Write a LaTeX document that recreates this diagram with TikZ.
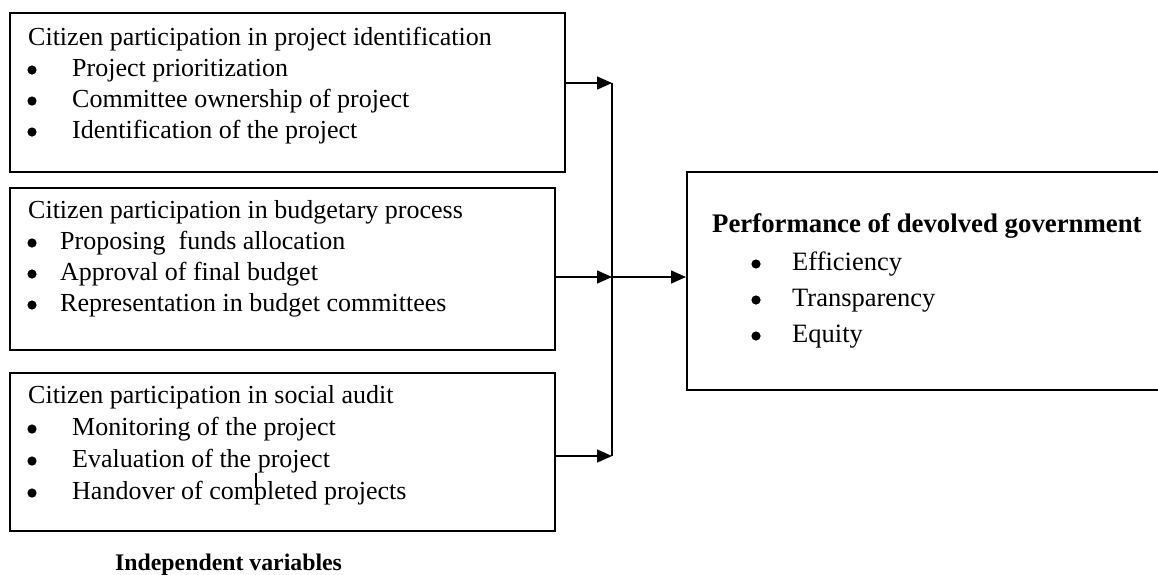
\documentclass[tikz,border=0pt]{standalone}
\usepackage{fontspec}
\setmainfont{Liberation Serif}
\usetikzlibrary{arrows.meta}

\begin{document}
\begin{tikzpicture}[x=1pt,y=-1pt,
		varbox/.style={draw, line width=1.6pt, inner sep=0pt, anchor=north west},
		line/.style={anchor=base west, inner sep=0pt, font=\fontsize{26}{31}\selectfont},
		dot/.style={fill, radius=4.6pt},
		arr/.style={line width=1.5pt, -{Triangle[length=15pt,width=13pt]}}]
		\useasboundingbox (0,0) rectangle (1158,574);

		% the three independent variables
		\node [varbox, minimum width=555pt, minimum height=159pt] (box1) at (9,12) {};
		\node [varbox, minimum width=545pt, minimum height=162pt] (box2) at (9,187) {};
		\node [varbox, minimum width=545pt, minimum height=158pt] (box3) at (9,372) {};
		% dependent variable, runs off the right edge
		\node [varbox, minimum width=476pt, minimum height=218pt] (outcome) at (686,171) {};

		\node [line] (id0) at (28,45) {Citizen participation in project identification};
		\foreach \txt [count=\i] in {Project prioritization, Committee ownership of project, Identification of the project}{
			\fill [dot] (32,39+31*\i) circle;
			\node [line] (id\i) at (72,45+31*\i) {\txt};
		}

		\node [line] (bg0) at (28,218) {Citizen participation in budgetary process};
		\foreach \txt [count=\i] in {Proposing\ \ funds allocation, Approval of final budget, Representation in budget committees}{
			\fill [dot] (32,212+31*\i) circle;
			\node [line] (bg\i) at (60,218+31*\i) {\txt};
		}

		\node [line] (sa0) at (28,403) {Citizen participation in social audit};
		\foreach \txt [count=\i] in {Monitoring of the project, Evaluation of the project, Handover of completed projects}{
			\fill [dot] (32,397+32*\i) circle;
			\node [line] (sa\i) at (72,403+32*\i) {\txt};
		}

		\node [line, font=\fontsize{26.8}{31}\selectfont\bfseries] (pf0) at (712,232) {Performance of devolved government};
		\foreach \txt [count=\i] in {Efficiency, Transparency, Equity}{
			\fill [dot] (756,228+36*\i) circle;
			\node [line, font=\fontsize{26.5}{31}\selectfont] (pf\i) at (792,234+36*\i) {\txt};
		}

		\node [line, font=\fontsize{23.8}{26}\selectfont\bfseries] (indep) at (115,570) {Independent variables};

		% stray cursor mark
		\draw [line width=1.5pt] (256,473) -- (256,488);

		% joining line
		\coordinate (j1) at (612,83);
		\coordinate (j2) at (612,277);
		\coordinate (j3) at (612,456);
		\draw [arr] (box1.east |- j1) -- (j1);
		\draw [arr] (box2.east |- j2) -- (j2);
		\draw [arr] (box3.east |- j3) -- (j3);
		\draw [line width=1.5pt] (j1) -- (j3);
		\draw [arr] (j2) -- (outcome.west |- j2);
	\end{tikzpicture}
\end{document}
